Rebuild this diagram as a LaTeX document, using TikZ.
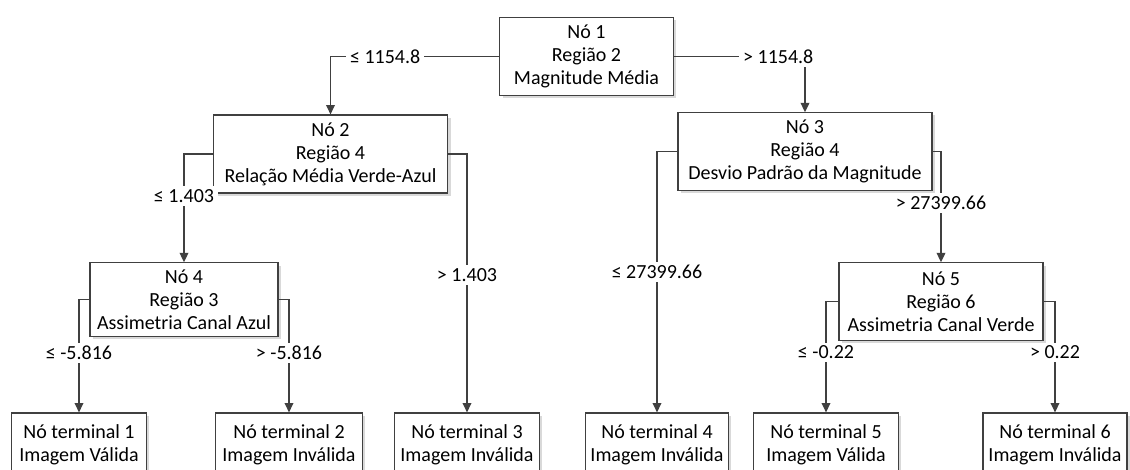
\documentclass[tikz,border=0pt]{standalone}
\usepackage{fontspec}
\setmainfont{Carlito}
\usepackage{xcolor}
\usepackage{tikz}
\usetikzlibrary{arrows.meta,shadows}

\definecolor{linha}{HTML}{404040}

\begin{document}
\begin{tikzpicture}[x=0.75pt,y=-0.75pt,
  font=\fontsize{15}{17.25}\selectfont,
  caixa/.style={draw=linha,line width=0.9pt,fill=white,align=center,inner sep=0pt,
    drop shadow={shadow xshift=2pt,shadow yshift=-2pt,fill=black!15,opacity=1}},
  folha/.style={caixa,minimum height=48pt},
  rotulo/.style={fill=white,inner xsep=3pt,inner ysep=2.5pt},
  seta/.style={draw=linha,line width=1pt,-{Triangle[length=7pt,width=6.5pt]}}]
\clip (0,0) rectangle (1130,470);

% nos de decisao
\node[caixa,minimum width=130pt,minimum height=59pt] (n1) at (586.5,56.5) {Nó 1\\Região 2\\Magnitude Média};
\node[caixa,minimum width=176pt,minimum height=58.5pt] (n2) at (330.5,154) {Nó 2\\Região 4\\Relação Média Verde-Azul};
\node[caixa,minimum width=190.5pt,minimum height=58pt] (n3) at (805,151.5) {Nó 3\\Região 4\\Desvio Padrão da Magnitude};
\node[caixa,minimum width=141pt,minimum height=55pt] (n4) at (184,299.5) {Nó 4\\Região 3\\Assimetria Canal Azul};
\node[caixa,minimum width=153pt,minimum height=58pt] (n5) at (941,301.5) {Nó 5\\Região 6\\Assimetria Canal Verde};

% nos terminais
\node[folha,minimum width=101pt] (t1) at (79,445) {Nó terminal 1\\Imagem Válida};
\node[folha,minimum width=110pt] (t2) at (289,445) {Nó terminal 2\\Imagem Inválida};
\node[folha,minimum width=109pt] (t3) at (467,445) {Nó terminal 3\\Imagem Inválida};
\node[folha,minimum width=107pt] (t4) at (657,445) {Nó terminal 4\\Imagem Inválida};
\node[folha,minimum width=109pt] (t5) at (826,445) {Nó terminal 5\\Imagem Válida};
\node[folha,minimum width=108pt] (t6) at (1055,445) {Nó terminal 6\\Imagem Inválida};

% ramos
\draw[seta] (n1.west) -| node[rotulo,pos=0.338] {≤ 1154.8} (n2.north);
\draw[seta] (n1.east) -| node[rotulo,pos=0.398] {> 1154.8} (n3.north);
\draw[seta] (n2.west) -| node[rotulo,pos=0.695] {≤ 1.403} (n4.north);
\draw[seta] (n2.east) -| node[rotulo,pos=0.734] {> 1.403} (t3.north);
\draw[seta] (n3.west) -| node[rotulo,pos=0.731] {≤ 27399.66} (t4.north);
\draw[seta] (n3.east) -| node[rotulo,pos=0.732] {> 27399.66} (n5.north);
\draw[seta] (n4.west) -| node[rotulo,pos=0.737] {≤ -5.816} (t1.north);
\draw[seta] (n4.east) -| node[rotulo,pos=0.737] {> -5.816} (t2.north);
\draw[seta] (n5.west) -| node[rotulo,pos=0.73] {≤ -0.22} (t5.north);
\draw[seta] (n5.east) -| node[rotulo,pos=0.73] {> 0.22} (t6.north);
\end{tikzpicture}
\end{document}
